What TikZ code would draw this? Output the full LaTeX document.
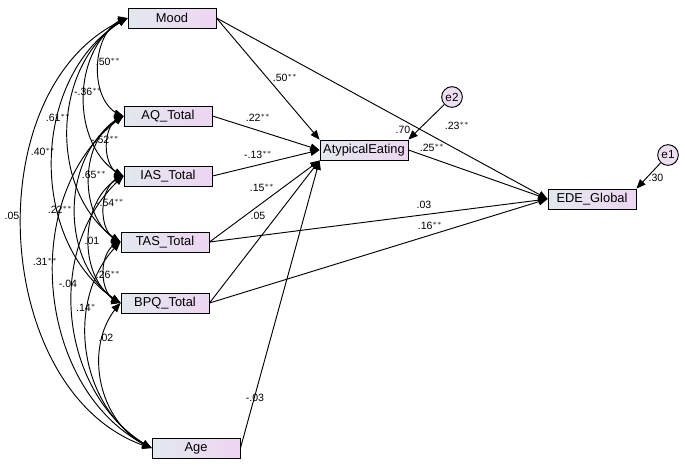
\documentclass[tikz,border=0pt]{standalone}
\usepackage{fontspec}
\setmainfont{Liberation Sans}
\usepackage{tikz}
\usetikzlibrary{arrows,shapes,positioning,calc}
\definecolor{boxleft}{RGB}{226,232,238}
\definecolor{boxright}{RGB}{238,214,242}
\definecolor{errfill}{RGB}{238,222,242}
\begin{document}
\begin{tikzpicture}[x=0.03cm,y=-0.03cm]
          \useasboundingbox (0,0) rectangle (685,468);
          \tikzstyle{var}=[draw, thick, minimum width=2.64cm, minimum height=0.6cm, inner sep=1pt, left color=boxleft, right color=boxright, font=\fontsize{11}{12}\selectfont]
          \tikzstyle{err}=[circle, draw, thick, fill=errfill, minimum size=0.62cm, inner sep=0pt, font=\fontsize{10}{11}\selectfont]
          \tikzstyle{lab}=[font=\fontsize{9}{10}\selectfont, inner sep=0pt]
          \tikzstyle{path}=[-triangle 45, thick]
          \tikzstyle{cov}=[triangle 45-triangle 45, thick]

          % observed variables
          \node[var] (Mood) at (172,18) {Mood};
          \node[var] (AQ) at (168,116) {AQ\_Total};
          \node[var] (IAS) at (168,176) {IAS\_Total};
          \node[var] (TAS) at (165,242) {TAS\_Total};
          \node[var] (BPQ) at (165,303) {BPQ\_Total};
          \node[var] (Age) at (196,448) {Age};
          \node[var] (Atyp) at (364,150) {AtypicalEating};
          \node[var] (EDE) at (592,199) {EDE\_Global};
          % errors
          \node[err] (e2) at (452,97) {e2};
          \node[err] (e1) at (668,155) {e1};

          % regression paths
          \draw[path] (Mood.east) -- (Atyp.north west);
          \draw[path] (Mood.east) -- (EDE.west);
          \draw[path] (AQ.east) -- (Atyp.west);
          \draw[path] (IAS.east) -- (Atyp.west);
          \draw[path] (TAS.east) -- (Atyp.south west);
          \draw[path] (BPQ.east) -- (Atyp.south west);
          \draw[path] (Age.east) -- (Atyp.south west);
          \draw[path] (Atyp.east) -- (EDE.west);
          \draw[path] (TAS.east) -- (EDE.west);
          \draw[path] (BPQ.east) -- (EDE.west);
          \draw[path] (e2) -- (Atyp.north east);
          \draw[path] (e1) -- (EDE.north east);

          % covariances
          \draw[cov] (Mood.west) to[bend right=75] (AQ.west);
          \draw[cov] (Mood.west) to[bend right=65] (IAS.west);
          \draw[cov] (Mood.west) to[bend right=60] (TAS.west);
          \draw[cov] (Mood.west) to[bend right=60] (BPQ.west);
          \draw[cov] (Mood.west) to[bend right=70] (Age.west);
          \draw[cov] (AQ.west) to[bend right=75] (IAS.west);
          \draw[cov] (AQ.west) to[bend right=65] (TAS.west);
          \draw[cov] (AQ.west) to[bend right=60] (BPQ.west);
          \draw[cov] (AQ.west) to[bend right=60] (Age.west);
          \draw[cov] (IAS.west) to[bend right=75] (TAS.west);
          \draw[cov] (IAS.west) to[bend right=65] (BPQ.west);
          \draw[cov] (IAS.west) to[bend right=55] (Age.west);
          \draw[cov] (TAS.west) to[bend right=75] (BPQ.west);
          \draw[cov] (TAS.west) to[bend right=55] (Age.west);
          \draw[cov] (BPQ.west) to[bend right=55] (Age.west);

          % coefficient labels
          \node[lab] at (108,62) {.50$^{**}$};
          \node[lab] at (88,92) {-.36$^{**}$};
          \node[lab] at (58,118) {.61$^{**}$};
          \node[lab] at (43,152) {.40$^{**}$};
          \node[lab] at (12,216) {.05};
          \node[lab] at (105,140) {-.52$^{**}$};
          \node[lab] at (94,175) {.65$^{**}$};
          \node[lab] at (60,210) {.22$^{**}$};
          \node[lab] at (45,262) {.31$^{**}$};
          \node[lab] at (110,203) {-.54$^{**}$};
          \node[lab] at (92,241) {.01};
          \node[lab] at (68,284) {-.04};
          \node[lab] at (108,275) {.26$^{**}$};
          \node[lab] at (86,308) {.14$^{*}$};
          \node[lab] at (106,338) {.02};
          \node[lab] at (285,78) {.50$^{**}$};
          \node[lab] at (258,118) {.22$^{**}$};
          \node[lab] at (258,155) {-.13$^{**}$};
          \node[lab] at (262,188) {.15$^{**}$};
          \node[lab] at (258,216) {.05};
          \node[lab] at (255,398) {-.03};
          \node[lab] at (403,130) {.70};
          \node[lab] at (432,148) {.25$^{**}$};
          \node[lab] at (457,126) {.23$^{**}$};
          \node[lab] at (424,205) {.03};
          \node[lab] at (430,226) {.16$^{**}$};
          \node[lab] at (656,178) {.30};
\end{tikzpicture}
\end{document}
